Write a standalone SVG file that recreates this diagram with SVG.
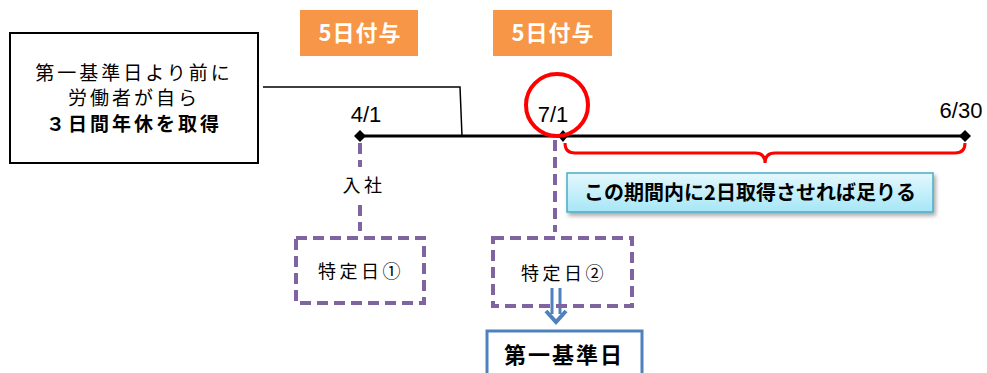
<svg xmlns="http://www.w3.org/2000/svg" width="987" height="373" viewBox="0 0 987 373">
<defs>
<style>
.jp{font-family:"Noto Sans CJK JP","Liberation Sans",sans-serif;}
.lbl{font-family:"Liberation Sans","Noto Sans CJK JP",sans-serif;font-size:22px;fill:#000;text-anchor:middle;}
.tag rect{fill:#F79646;}
.tag text{fill:#fff;font-weight:bold;font-size:22px;letter-spacing:1px;text-anchor:middle;}
.pd{fill:none;stroke:#8064A2;stroke-width:4;stroke-dasharray:11 6;}
.pt{font-size:18px;fill:#000;text-anchor:middle;letter-spacing:3.5px;}
.nb{font-size:19px;text-anchor:middle;letter-spacing:3px;}
</style>
<linearGradient id="cy" x1="0" y1="0" x2="0" y2="1">
<stop offset="0" stop-color="#E4F8FD"/>
<stop offset="1" stop-color="#A6E6F7"/>
</linearGradient>
<marker id="dia" viewBox="-6 -6 12 12" markerWidth="12" markerHeight="12" markerUnits="userSpaceOnUse" refX="0" refY="0" orient="auto">
<path d="M-6 0 L0 -6 L6 0 L0 6 Z" fill="#000"/>
</marker>
<filter id="sh" x="-5%" y="-20%" width="110%" height="150%">
<feDropShadow dx="2" dy="3" stdDeviation="2" flood-color="#000" flood-opacity="0.35"/>
</filter>
</defs>
<rect width="987" height="373" fill="#fff"/>

<g id="connectors">
<polyline points="263,87 460,87 462,136" fill="none" stroke="#000" stroke-width="1.5"/>
<line x1="360" y1="136" x2="965" y2="136" stroke="#000" stroke-width="3" marker-start="url(#dia)" marker-end="url(#dia)"/>
<path d="M563 130 L568 136 L563 142 L558 136 Z" fill="#000"/>
<line x1="360" y1="143" x2="360" y2="167" class="pd"/>
<line x1="360" y1="205" x2="360" y2="231" class="pd"/>
<line x1="555" y1="140" x2="555" y2="232" class="pd"/>
<path d="M565 143 Q565 153 575 153 L755 153 Q765 153 765 163 Q765 153 775 153 L955 153 Q965 153 965 143" fill="none" stroke="#FF0000" stroke-width="3"/>
<g fill="none" stroke="#4F81BD" stroke-width="3">
<line x1="552" y1="288" x2="552" y2="314"/>
<line x1="560" y1="288" x2="560" y2="314"/>
<path d="M546 311 L556 322 L566 311" stroke-width="4"/>
</g>
</g>

<g id="note-box">
<rect x="10" y="33" width="248" height="130" fill="#fff" stroke="#000" stroke-width="2"/>
<text class="jp nb" x="134" y="80">第一基準日より前に</text>
<text class="jp nb" x="134" y="105">労働者が自ら</text>
<text class="jp nb" x="134" y="131" font-weight="bold">３日間年休を取得</text>
</g>

<g id="tag1" class="tag jp">
<rect x="300" y="10" width="118" height="46"/>
<text x="360" y="41">5日付与</text>
</g>
<g id="tag2" class="tag jp">
<rect x="493" y="10" width="119" height="46"/>
<text x="553" y="41">5日付与</text>
</g>

<g id="date-41"><text class="lbl" x="366" y="122">4/1</text></g>
<g id="date-71">
<text class="lbl" x="553" y="122">7/1</text>
<circle cx="557" cy="105" r="31" fill="none" stroke="#FF0000" stroke-width="4"/>
</g>
<g id="date-630"><text class="lbl" x="961" y="118">6/30</text></g>

<g id="nyusha"><text class="jp pt" x="364" y="192" letter-spacing="7">入社</text></g>

<g id="tokutei1">
<rect x="296" y="238" width="128" height="65" class="pd"/>
<text class="jp pt" x="361" y="278">特定日①</text>
</g>
<g id="tokutei2">
<rect x="493" y="238" width="139" height="68" class="pd"/>
<text class="jp pt" x="564" y="280">特定日②</text>
</g>

<g id="kijunbi">
<rect x="487" y="331" width="155" height="50" fill="#fff" stroke="#4F81BD" stroke-width="3"/>
<text class="jp" x="564" y="363" font-size="22" font-weight="bold" text-anchor="middle" letter-spacing="2">第一基準日</text>
</g>

<g id="period">
<rect x="567" y="173" width="366" height="39" fill="url(#cy)" stroke="#4BACC6" stroke-width="1.5" filter="url(#sh)"/>
<text class="jp" x="750" y="200" font-size="20" font-weight="bold" text-anchor="middle">この期間内に2日取得させれば足りる</text>
</g>
</svg>
